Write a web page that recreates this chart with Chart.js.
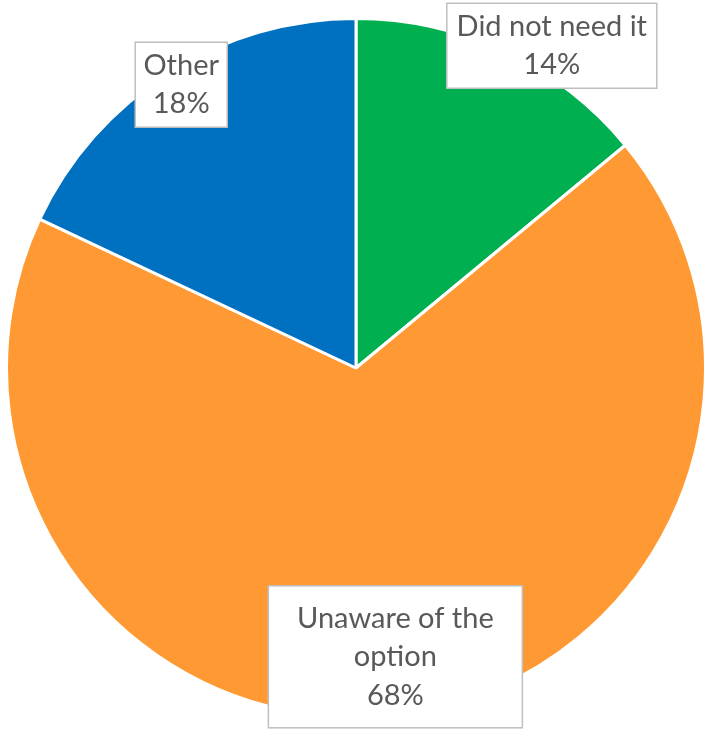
<!DOCTYPE html>
<html>
<head>
<meta charset="utf-8">
<script src="https://cdn.jsdelivr.net/npm/chart.js@4"></script>
<style>
  html, body { margin: 0; padding: 0; background: #ffffff; }
  #wrap { width: 708px; height: 730px; }
</style>
</head>
<body>
<div id="wrap"><canvas id="reasonPie" width="708" height="730"></canvas></div>
<script>
const categories = ["Did not need it", "Unaware of the option", "Other"];
const shares = [14, 68, 18];
const labelLines = [["Did not need it", "14%"], ["Unaware of the", "option", "68%"], ["Other", "18%"]];
const sliceColors = ["#00B050", "#FF9933", "#0070C0"];

// label box layout (excel-style callouts), relative to the slice mid-point on the rim
const boxLayout = [
  { f: 1.0, dx: 47, dy: -6, w: 210, h: 85 },
  { f: 0.83, dx: 3, dy: 1, w: 254, h: 142 },
  { f: 0.96, dx: 5, dy: 0, w: 92, h: 85 }
];

const boxLabels = {
  id: "boxLabels",
  afterDatasetsDraw(chart) {
    const ctx = chart.ctx;
    const meta = chart.getDatasetMeta(0);
    ctx.save();
    ctx.font = "29px Lato";
    ctx.textAlign = "center";
    ctx.textBaseline = "middle";
    meta.data.forEach((arc, i) => {
      const p = arc.getProps(["x", "y", "startAngle", "endAngle", "outerRadius"], true);
      const mid = (p.startAngle + p.endAngle) / 2;
      const b = boxLayout[i];
      const cx = p.x + Math.cos(mid) * p.outerRadius * b.f + b.dx;
      const cy = p.y + Math.sin(mid) * p.outerRadius * b.f + b.dy;
      ctx.fillStyle = "#ffffff";
      ctx.fillRect(cx - b.w / 2, cy - b.h / 2, b.w, b.h);
      ctx.strokeStyle = "#BFBFBF";
      ctx.lineWidth = 1.5;
      ctx.strokeRect(cx - b.w / 2, cy - b.h / 2, b.w, b.h);
      ctx.fillStyle = "#595959";
      const lines = labelLines[i];
      const lh = 38.5;
      lines.forEach((t, k) => {
        ctx.fillText(t, cx, cy + (k - (lines.length - 1) / 2) * lh);
      });
    });
    ctx.restore();
  }
};

new Chart(document.getElementById("reasonPie").getContext("2d"), {
  type: "pie",
  data: {
    labels: categories,
    datasets: [{
      data: shares,
      backgroundColor: sliceColors,
      borderColor: "#ffffff",
      borderWidth: 3
    }]
  },
  options: {
    responsive: false,
    animation: false,
    layout: { padding: { left: 5, right: 1, top: 17, bottom: 11 } },
    plugins: {
      legend: { display: false },
      tooltip: { enabled: false }
    }
  },
  plugins: [boxLabels]
});
</script>
</body>
</html>
